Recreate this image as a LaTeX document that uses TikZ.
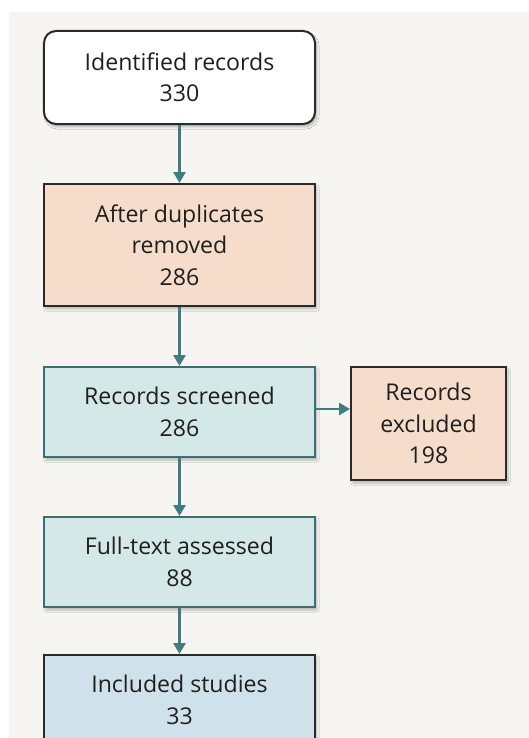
\documentclass[tikz,border=0pt]{standalone}
\usepackage{fontspec}
\setmainfont{Open Sans}
\usetikzlibrary{arrows.meta,shadows.blur}

\definecolor{pagebg}{HTML}{F7F5F1}
\definecolor{peach}{HTML}{F6DCCB}
\definecolor{paleteal}{HTML}{D5E8E8}
\definecolor{paleblue}{HTML}{CFE1EA}
\definecolor{flowteal}{HTML}{3E7C80}
\definecolor{edgedark}{HTML}{2A2A2A}
\definecolor{edgeteal}{HTML}{3B6E70}

\tikzset{
  box/.style={draw=edgedark, line width=2bp, align=center, inner sep=0pt,
    minimum width=271bp, text=black!88,
    font=\fontsize{23.2}{31.5}\selectfont,
    blur shadow={shadow xshift=2pt, shadow yshift=-3pt, shadow opacity=25, shadow blur steps=6}},
  flow/.style={draw=flowteal, line width=2.6bp, -{Triangle[length=11bp,width=12bp]}}
}

\begin{document}
\begin{tikzpicture}[x=1bp,y=-1bp]
  \useasboundingbox (0,0) rectangle (529,738);
  \clip (0,0) rectangle (529,738);
  \fill[white] (0,0) rectangle (529,738);
  \fill[pagebg] (9,12) rectangle (529,738);

  \node[box, fill=white, rounded corners=12bp, minimum height=93bp] (ident) at (179.5,77.5)
    {Identified records\\330};
  \node[box, fill=peach, minimum height=122bp] (dedup) at (179.5,245)
    {After duplicates\\removed\\286};
  \node[box, fill=paleteal, draw=edgeteal, minimum height=90bp] (screen) at (179.5,412)
    {Records screened\\286};
  \node[box, fill=peach, minimum width=155bp, minimum height=113bp] (excl) at (428.5,423.5)
    {Records\\excluded\\198};
  \node[box, fill=paleteal, draw=edgeteal, minimum height=90bp] (full) at (179.5,562)
    {Full-text assessed\\88};
  \node[box, fill=paleblue, minimum height=90bp] (incl) at (179.5,700)
    {Included studies\\33};

  \draw[flow] (ident.south) -- (dedup.north);
  \draw[flow] (dedup.south) -- (screen.north);
  \draw[flow] ([yshift=3bp]screen.east) -- ([yshift=3bp]screen.east -| excl.west);
  \draw[flow] (screen.south) -- (full.north);
  \draw[flow] (full.south) -- (incl.north);
\end{tikzpicture}
\end{document}
